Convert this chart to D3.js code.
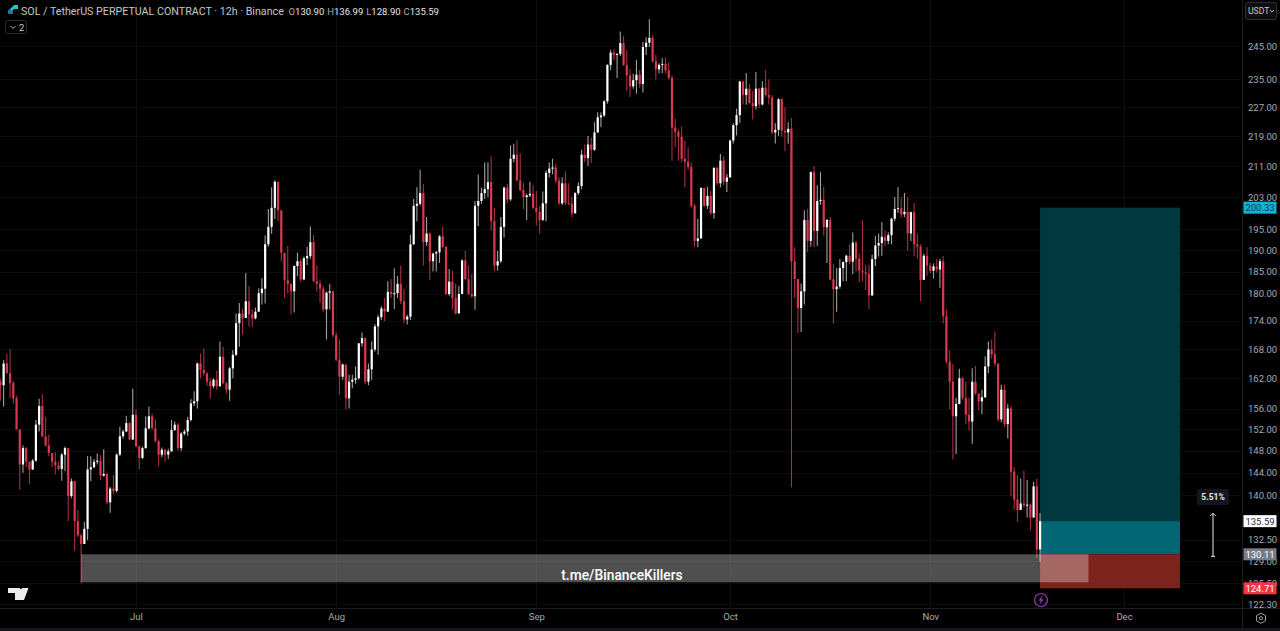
<!DOCTYPE html>
<html><head><meta charset="utf-8">
<script src="https://cdn.jsdelivr.net/npm/d3@7"></script>
<style>
html,body{margin:0;padding:0;background:#000;overflow:hidden}
svg{display:block}
text{font-family:Roboto,"Noto Sans",sans-serif}
</style></head><body><div id="c"></div>
<script>
const firstOpen=[161.3];
const closes=[
160.6,165.0,163.0,161.0,158.0,152.0,145.5,148.5,146.0,144.6,
146.2,152.9,156.5,150.7,149.0,147.6,146.0,145.3,144.7,147.3,
148.5,139.9,142.5,135.6,133.2,131.8,134.3,144.6,145.0,146.0,
146.2,143.5,143.8,138.8,141.2,140.8,147.3,150.7,151.6,153.2,
150.1,154.8,148.8,146.7,148.5,152.2,154.5,152.2,149.8,147.3,
148.2,147.3,147.9,151.9,152.9,148.5,151.2,151.6,153.8,157.0,
157.4,165.0,163.7,163.0,161.3,160.4,161.7,160.4,166.4,161.0,
159.7,164.0,166.8,173.5,175.6,174.6,178.3,175.4,174.5,176.0,
180.1,181.1,191.4,195.6,200.3,206.9,199.7,189.4,183.0,182.2,
180.5,186.3,187.4,183.2,188.1,188.6,191.9,182.8,182.2,181.1,
176.5,180.2,180.5,170.9,165.8,162.3,164.8,158.0,161.3,161.7,
162.0,169.2,170.3,161.3,163.8,167.9,172.8,174.8,176.7,176.0,
180.4,179.9,180.1,182.2,178.3,174.3,174.9,191.4,200.8,201.3,
204.0,191.9,194.0,187.4,189.2,189.5,193.3,190.8,179.9,182.7,
179.0,175.6,179.9,187.6,183.3,179.9,179.4,200.8,202.0,204.0,
205.0,206.8,197.0,186.4,187.4,195.6,205.4,202.4,212.9,214.0,
207.2,204.8,203.0,203.4,203.8,200.3,199.3,197.3,201.4,209.2,
210.3,210.6,207.2,201.4,206.5,201.5,201.3,198.9,204.0,205.8,
214.0,213.1,216.7,215.3,220.0,224.2,224.7,228.7,239.3,243.0,
242.3,242.6,245.9,239.3,236.2,233.0,234.8,236.4,233.7,244.7,
246.0,247.5,240.4,238.0,239.3,239.6,237.7,235.5,221.3,220.2,
218.8,212.9,212.1,210.7,200.8,192.2,192.8,205.3,200.8,203.3,
199.0,210.5,206.5,212.4,206.9,208.0,217.8,222.0,224.8,234.4,
230.5,232.3,228.2,227.3,232.3,227.8,232.6,230.5,229.8,220.0,
220.7,229.3,220.5,220.0,221.0,187.4,183.3,176.8,180.5,197.3,
192.2,209.4,194.6,202.0,202.3,195.5,197.3,183.2,181.0,181.6,
185.8,187.2,188.7,187.3,191.8,188.0,185.2,184.8,184.5,179.6,
187.9,191.1,191.7,193.2,192.2,193.6,197.6,200.0,200.2,198.7,
199.3,194.0,199.2,191.4,190.9,183.1,188.7,186.4,185.2,186.2,
185.5,187.4,175.0,165.4,161.3,154.5,156.9,162.0,158.1,154.8,
153.5,161.3,158.9,157.4,158.2,164.4,167.9,166.9,165.0,153.9,
159.7,153.0,156.0,144.2,139.3,137.5,138.6,138.3,138.4,136.2,
141.6,130.9,135.59];
const highs=[
161.8,165.7,167.0,168.0,161.5,158.5,152.0,149.0,148.7,146.0,
146.5,153.8,157.9,158.8,154.4,151.0,147.5,147.8,146.0,147.6,
148.8,148.3,143.0,142.6,137.5,133.5,135.5,147.0,147.0,146.5,
147.5,147.2,148.3,144.0,141.5,143.6,147.5,152.5,152.0,154.6,
153.4,159.9,155.8,149.0,148.8,154.5,156.4,155.0,153.9,150.1,
148.6,148.4,148.4,153.8,153.5,153.2,151.5,152.0,154.4,157.8,
159.4,165.2,167.0,168.1,163.2,162.0,162.0,163.5,169.6,168.5,
161.3,164.3,167.8,175.6,177.9,176.6,184.7,181.7,176.6,176.9,
181.2,183.5,193.5,200.0,205.5,207.3,206.5,198.0,189.3,191.0,
182.3,186.4,189.4,187.9,188.5,190.8,195.7,193.6,186.4,183.2,
181.7,180.5,182.2,180.7,171.5,170.0,165.0,164.4,162.7,162.7,
164.4,169.2,171.5,170.4,165.0,169.6,173.3,175.3,177.2,179.0,
182.8,183.3,185.8,184.0,186.4,181.1,175.3,193.7,202.5,205.5,
210.0,206.4,198.0,194.2,189.4,189.8,193.6,195.6,191.0,185.6,
185.2,182.3,181.7,187.8,189.8,186.4,184.4,202.0,208.8,205.4,
211.9,212.0,213.6,200.2,189.8,198.0,205.6,206.3,216.5,216.9,
217.8,214.4,206.6,203.8,206.9,206.0,204.5,200.7,204.4,209.8,
211.9,212.9,211.6,208.2,208.0,209.6,206.5,203.0,204.2,206.8,
215.3,216.7,219.0,218.5,222.8,225.6,225.6,229.0,239.5,243.8,
244.0,242.8,249.5,248.0,243.8,238.0,236.7,240.8,237.8,246.3,
247.7,253.3,248.4,242.3,239.8,241.3,241.6,240.0,236.2,223.8,
220.8,221.6,217.8,216.0,211.9,201.3,197.5,205.5,205.2,205.6,
204.5,210.7,210.8,214.2,213.5,208.9,218.0,222.5,226.6,234.6,
234.5,236.9,233.7,231.7,237.2,232.6,234.5,237.8,235.0,230.5,
222.5,229.6,229.6,227.0,222.8,224.0,190.7,183.0,182.3,199.7,
200.0,209.6,211.0,206.0,209.4,205.6,197.5,198.0,186.8,185.8,
187.9,187.4,188.9,191.4,194.2,192.2,189.2,197.2,186.6,186.6,
189.0,193.4,194.0,196.7,194.7,194.3,197.8,203.0,205.5,203.0,
204.0,203.0,199.4,201.5,193.9,191.4,189.2,190.7,187.0,186.9,
188.0,187.9,188.6,176.5,167.7,164.9,158.1,163.9,162.3,161.3,
158.1,164.0,164.5,159.0,159.7,166.5,169.6,170.0,171.7,163.9,
160.7,160.7,156.9,156.6,145.0,143.6,143.0,144.4,142.7,138.6,
142.4,143.0,136.99];
const lows=[
157.5,156.4,163.0,158.0,157.0,152.0,141.0,144.0,145.0,142.0,
144.5,146.0,151.6,150.5,148.8,147.0,145.0,143.7,144.5,142.6,
144.3,135.6,139.5,130.7,132.9,125.5,131.8,132.4,142.5,144.8,
145.5,142.7,143.3,138.5,137.0,140.3,140.5,147.0,150.3,151.5,
150.0,150.0,148.7,144.6,146.5,148.4,152.0,152.0,149.6,145.2,
146.8,146.0,146.5,147.8,151.7,148.0,147.9,150.9,150.8,153.5,
156.5,156.0,162.0,162.5,160.5,158.0,160.0,159.7,160.3,160.8,
158.9,157.5,162.0,166.5,168.5,171.0,174.8,172.8,172.6,174.3,
176.0,177.6,177.8,190.8,193.9,197.5,197.0,187.4,179.0,180.1,
175.4,175.8,184.0,182.7,183.0,186.5,188.0,182.5,180.5,177.9,
176.0,170.0,176.5,170.5,165.5,158.7,161.7,155.8,156.0,160.0,
160.9,161.7,168.5,160.8,160.6,161.7,167.5,166.8,174.2,173.9,
176.0,179.0,176.6,179.0,177.7,173.4,173.2,174.2,191.3,197.0,
200.8,186.4,191.0,183.0,185.0,185.0,187.0,190.5,179.7,179.5,
176.6,175.4,175.7,179.9,183.0,179.7,179.0,176.4,195.8,201.3,
202.5,203.0,194.7,185.2,185.2,187.0,193.0,201.5,202.0,212.0,
207.0,204.5,200.0,197.3,203.0,200.0,195.9,193.9,197.0,197.0,
208.0,208.8,206.5,201.0,201.0,201.0,201.0,198.0,199.8,203.5,
205.0,212.0,211.0,211.7,215.0,219.9,221.4,224.3,228.0,237.7,
240.8,235.4,242.0,239.0,231.6,229.9,232.3,230.9,232.6,231.2,
242.3,244.7,240.0,235.0,236.8,236.8,236.8,235.0,212.4,216.0,
212.4,212.0,205.5,210.0,200.3,190.8,190.7,192.7,200.5,200.0,
198.5,197.6,206.0,205.4,206.0,204.3,208.7,217.0,219.2,222.6,
227.8,227.7,228.0,223.6,226.4,226.7,227.5,230.0,227.8,219.5,
217.0,219.0,218.8,215.0,216.9,141.4,179.0,171.4,171.6,177.6,
189.6,190.9,190.7,191.0,201.0,193.5,187.0,183.0,173.4,176.0,
181.1,182.8,182.8,186.7,184.4,185.0,182.5,182.8,180.8,176.6,
179.5,186.3,188.5,188.7,191.0,191.4,191.4,197.0,199.0,197.9,
198.0,189.8,192.2,188.6,188.0,178.3,184.2,184.0,184.6,183.4,
184.8,181.3,173.4,164.9,155.9,146.4,147.4,156.8,157.6,153.0,
151.8,149.3,158.7,155.6,154.9,158.1,163.0,166.0,164.4,153.5,
153.3,152.5,150.3,139.9,137.6,135.5,137.6,137.9,136.2,134.0,
136.2,129.5,128.9];
const priceTicks=[245,235,227,219,211,203,195,190,185,180,174,168,162,156,152,148,144,140,132.5,129,125.5,122.3];
const monthNames=["Jul","Aug","Sep","Oct","Nov","Dec"];
const monthDates=[Date.UTC(2025,6,1),Date.UTC(2025,7,1),Date.UTC(2025,8,1),Date.UTC(2025,9,1),Date.UTC(2025,10,1),Date.UTC(2025,11,1)];
const startDate=[Date.UTC(2025,5,10)];
const ohlcLabels=["O","H","L","C"];
const ohlcValues=["130.90","136.99","128.90","135.59"];
const entryPrice=[130.11], stopPrice=[124.71], targetPrice=[200.33], lastPrice=[135.59];
const toolStart=[Date.UTC(2025,10,18)], toolEnd=[Date.UTC(2025,11,9,16)], boxEnd=[Date.UTC(2025,10,25,12)], boxStart=[Date.UTC(2025,5,22,12)];
const moveLabel=["5.51%"];

const W=1280,H=631;
const x=d3.scaleUtc().domain([monthDates[0],monthDates[5]]).range([136,1124]);
const y=d3.scaleLog().domain([245,122.3]).range([46,604]);
const hour12=12*3600*1000;
const candles=closes.map((c,i)=>({t:startDate[0]+i*hour12,o:i?closes[i-1]:firstOpen[0],c,h:highs[i],l:lows[i]}));
const svg=d3.select("#c").append("svg").attr("width",W).attr("height",H).attr("viewBox",[0,0,W,H]);
svg.append("rect").attr("width",W).attr("height",H).attr("fill","#000");

// grid
const grid=svg.append("g").attr("stroke","#0c0d0e").attr("stroke-width",1);
grid.selectAll("line.h").data(priceTicks).join("line").attr("x1",0).attr("x2",1243)
 .attr("y1",d=>Math.round(y(d))+.5).attr("y2",d=>Math.round(y(d))+.5);
grid.selectAll("line.v").data(monthDates).join("line").attr("y1",0).attr("y2",608)
 .attr("x1",d=>Math.round(x(d))+.5).attr("x2",d=>Math.round(x(d))+.5);

// position tool
const tx0=x(toolStart[0]),tx1=x(toolEnd[0]);
const zone=(p0,p1,fill)=>svg.append("rect").attr("x",tx0).attr("width",tx1-tx0).attr("y",y(p0)).attr("height",y(p1)-y(p0)).attr("fill",fill);
zone(targetPrice[0],lastPrice[0],"#01383f");
zone(lastPrice[0],entryPrice[0],"#026675");
zone(entryPrice[0],stopPrice[0],"#7c241c");

// candles
const bw=2.2;
const g=svg.append("g");
g.selectAll("line").data(candles).join("line")
 .attr("x1",d=>x(d.t)).attr("x2",d=>x(d.t)).attr("y1",d=>y(d.h)).attr("y2",d=>y(d.l))
 .attr("stroke",d=>d.c>=d.o?"#a0a0a0":"#a82f44").attr("stroke-width",1.1);
g.selectAll("rect").data(candles).join("rect")
 .attr("x",d=>x(d.t)-bw/2).attr("width",bw)
 .attr("y",d=>y(Math.max(d.o,d.c))).attr("height",d=>Math.max(1,Math.abs(y(d.o)-y(d.c))))
 .attr("fill",d=>d.c>=d.o?"#ffffff":"#d8394f");

// grey box
svg.append("rect").attr("x",x(boxStart[0])).attr("width",x(boxEnd[0])-x(boxStart[0]))
 .attr("y",y(entryPrice[0])).attr("height",28).attr("fill","#fff").attr("fill-opacity",.31);
svg.append("text").attr("x",622).attr("y",580).attr("text-anchor","middle").attr("fill","#fff")
 .attr("font-size",13.8).attr("font-weight",500).text("t.me/BinanceKillers");

// axes frames
svg.append("rect").attr("x",1243).attr("width",37).attr("height",H).attr("fill","#000");
svg.append("rect").attr("y",608).attr("width",W).attr("height",23).attr("fill","#000");
svg.append("line").attr("x1",1242.5).attr("x2",1242.5).attr("y1",0).attr("y2",628).attr("stroke","#1c1d20");
svg.append("line").attr("x1",0).attr("x2",1280).attr("y1",608.5).attr("y2",608.5).attr("stroke","#1c1d20");
svg.append("rect").attr("y",628).attr("width",W).attr("height",3).attr("fill","#17181b");

const yAxis=d3.axisRight(y).tickValues(priceTicks).tickFormat(d3.format(".2f")).tickSize(0).tickPadding(4);
const ya=svg.append("g").attr("transform","translate(1244,0)").call(yAxis);
ya.select(".domain").remove();
ya.selectAll("text").attr("fill","#a9abb2").attr("font-size",9.5).style("font-family","Roboto");
const xAxis=d3.axisBottom(x).tickValues(monthDates).tickFormat((d,i)=>monthNames[i]).tickSize(0).tickPadding(5);
const xa=svg.append("g").attr("transform","translate(0,608)").call(xAxis);
xa.select(".domain").remove();
xa.selectAll("text").attr("fill","#a9abb2").attr("font-size",9.5).style("font-family","Roboto");

// price tags
const tag=(p,bg,fg)=>{
 const yy=y(p);
 svg.append("rect").attr("x",1243.5).attr("y",yy-6).attr("width",33).attr("height",12).attr("fill",bg);
 svg.append("text").attr("x",1260).attr("y",yy+3.4).attr("text-anchor","middle").attr("font-size",9.5).attr("fill",fg).text(d3.format(".2f")(p));
};
tag(targetPrice[0],"#0fb4d2","#0b3a55");
tag(lastPrice[0],"#ffffff","#2a2e39");
tag(entryPrice[0],"#787b86","#ffffff");
tag(stopPrice[0],"#f23645","#ffffff");

// move arrow
const ax=1213;
svg.append("line").attr("x1",ax).attr("x2",ax).attr("y1",y(lastPrice[0]*1.01)).attr("y2",y(entryPrice[0])+2).attr("stroke","#e8e8e8");
svg.append("path").attr("d",`M${ax-3},${y(lastPrice[0]*1.01)+3}L${ax},${y(lastPrice[0]*1.01)}L${ax+3},${y(lastPrice[0]*1.01)+3}`).attr("fill","none").attr("stroke","#d8d8d8");
svg.append("line").attr("x1",ax-2).attr("x2",ax+2).attr("y1",y(entryPrice[0])+2).attr("y2",y(entryPrice[0])+2).attr("stroke","#e8e8e8");
svg.append("rect").attr("x",1197).attr("y",489).attr("width",32).attr("height",16).attr("rx",2).attr("fill","#131620");
svg.append("text").attr("x",1213).attr("y",500).attr("text-anchor","middle").attr("font-size",8.5).attr("font-weight",700).attr("fill","#e8e8ee").text(moveLabel[0]);

// title
const t=svg.append("text").attr("x",21).attr("y",14.5).attr("font-size",10.7).attr("fill","#c4c6cc");
t.text("SOL / TetherUS PERPETUAL CONTRACT · 12h · Binance");
const leg=svg.append("text").attr("x",288.5).attr("y",14.5).attr("font-size",9.5);
ohlcLabels.forEach((l,i)=>{
 leg.append("tspan").attr("fill","#a9abb2").attr("dx",i?3:0).text(l);
 leg.append("tspan").attr("fill","#e6e6e6").text(ohlcValues[i]);
});
// symbol icon
svg.append("path").attr("d","M9,10L14,5L18,5L18,9L14,9L10,13Z").attr("fill","#21c8c0");
svg.append("rect").attr("x",8).attr("y",10).attr("width",5).attr("height",4).attr("fill","#2c6fa0");
// collapse chip
svg.append("rect").attr("x",5.5).attr("y",20.5).attr("width",21).attr("height",13).attr("rx",2).attr("fill","#000").attr("stroke","#2a2b2e");
svg.append("path").attr("d","M10.5,26L13,28.5L15.5,26").attr("fill","none").attr("stroke","#b8b8b8");
svg.append("text").attr("x",19).attr("y",31).attr("font-size",9.5).attr("fill","#c8c8c8").text("2");
// USDT chip
svg.append("rect").attr("x",1245.5).attr("y",2.5).attr("width",31).attr("height",17).attr("rx",2.5).attr("fill","#0e0e10").attr("stroke","#2f3034");
svg.append("text").attr("x",1248).attr("y",14).attr("font-size",8.6).attr("fill","#c8c8c8").text("USDT");
svg.append("path").attr("d","M1270,10L1272,12L1274,10").attr("fill","none").attr("stroke","#c0c0c0");
// TV logo
svg.append("path").attr("d","M8,588H20V600H15V593H8Z M22,588H28.5L24,600H17.5Z").attr("fill","#ececec");
svg.append("circle").attr("cx",21.5).attr("cy",591).attr("r",2.3).attr("fill","#ececec");
// bolt badge
svg.append("circle").attr("cx",1041).attr("cy",600).attr("r",6.5).attr("fill","#0c0510").attr("stroke","#8e3db0").attr("stroke-width",1.2);
svg.append("path").attr("d","M1042.5,595.5L1038.8,600.6H1041L1039.6,604.5L1043.3,599.4H1041.1Z").attr("fill","#9a4cc0");
// settings icon
svg.append("path").attr("d","M1261,613.2L1265.5,615.7V620.8L1261,623.3L1256.5,620.8V615.7Z").attr("fill","none").attr("stroke","#a0a2a8");
svg.append("circle").attr("cx",1261).attr("cy",618.2).attr("r",1.6).attr("fill","none").attr("stroke","#a0a2a8");
</script></body></html>
